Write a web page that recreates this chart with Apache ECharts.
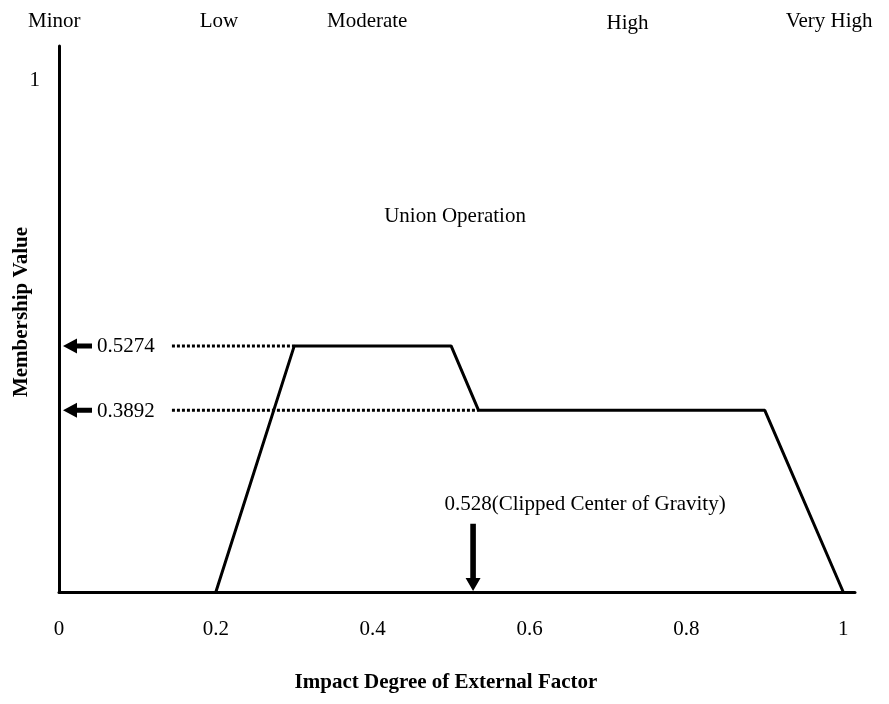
<!DOCTYPE html>
<html><head><meta charset="utf-8">
<script src="https://cdn.jsdelivr.net/npm/echarts@6/dist/echarts.min.js"></script>
<style>html,body{margin:0;padding:0;background:#fff}#c{width:889px;height:704px}</style>
</head><body><div id="c"></div>
<script>
// ---- data ----
const xTicks = [0, 0.2, 0.4, 0.6, 0.8, 1];
const unionX = [0.2, 0.3, 0.5, 0.535, 0.9, 1.0];
const unionY = [0, 0.5274, 0.5274, 0.3892, 0.3892, 0];
const clipLevels = [0.5274, 0.3892];
const clipLabels = ['0.5274', '0.3892'];
const clipStartX = [0.144, 0.144];
const clipEndX = [0.3, 0.535];
const cogX = 0.528;
const cogTopY = 0.146;
const cogLabel = '0.528(Clipped Center of Gravity)';
const setNames = ['Minor', 'Low', 'Moderate', 'High', 'Very High'];
const setNameX = [-0.006, 0.204, 0.393, 0.725, 0.982];
const setNameY = [21, 21, 21, 23, 21];
const opLabel = 'Union Operation';
const opLabelPos = [0.505, 0.8];

(function () {
const FONT = "'Liberation Serif', 'Times New Roman', serif";
const chart = echarts.init(document.getElementById('c'));

const unionData = unionX.map((x, i) => [x, unionY[i]]);
const dottedSeries = clipLevels.map((lv, i) => ({
  type: 'line', symbol: 'none', silent: true, z: 1,
  data: [[clipStartX[i], lv], [clipEndX[i], lv]],
  lineStyle: { color: '#000', width: 3, type: [3, 2] }
}));

chart.setOption({
  animation: false,
  backgroundColor: '#fff',
  grid: { left: 59, top: 46, right: 34, bottom: 112, containLabel: false, outerBoundsMode: 'none' },
  xAxis: {
    type: 'value', min: 0, max: 1.015, interval: 0.2,
    axisLine: { show: true, onZero: false, lineStyle: { color: '#000', width: 3 } },
    axisTick: { show: false }, splitLine: { show: false },
    axisLabel: {
      margin: 27, color: '#000', fontFamily: FONT, fontSize: 21,
      formatter: v => xTicks.some(t => Math.abs(t - v) < 1e-6) ? String(+v.toFixed(1)) : ''
    },
    name: 'Impact Degree of External Factor', nameLocation: 'middle', nameGap: 80,
    nameTextStyle: { color: '#000', fontFamily: FONT, fontSize: 21, fontWeight: 'bold', padding: [0, 22, 0, 0] }
  },
  yAxis: {
    type: 'value', min: 0, max: 1.17, interval: 1,
    axisLine: { show: true, lineStyle: { color: '#000', width: 3 } },
    axisTick: { show: false }, splitLine: { show: false },
    axisLabel: {
      margin: 19, color: '#000', fontFamily: FONT, fontSize: 21,
      verticalAlign: 'bottom', lineHeight: 90,
      formatter: v => Math.abs(v - 1) < 1e-6 ? '1' : ''
    },
    name: 'Membership Value', nameLocation: 'middle', nameGap: 27, nameRotate: 90,
    nameMoveOverlap: false,
    nameTextStyle: { color: '#000', fontFamily: FONT, fontSize: 21, fontWeight: 'bold', padding: [0, 0, 0, 14] }
  },
  series: [
    { type: 'line', symbol: 'none', z: 3, data: unionData,
      lineStyle: { color: '#000', width: 3 } },
    ...dottedSeries
  ]
});

const px = (x, y) => chart.convertToPixel({ gridIndex: 0 }, [x, y]);
const gfx = [];
const baseY = px(0, 0)[1];
const axisX = px(0, 0)[0];
setNames.forEach((n, i) => {
  gfx.push({ type: 'text', x: px(setNameX[i], 0)[0], y: setNameY[i],
    style: { text: n, font: '21px ' + FONT, fill: '#000', align: 'center', verticalAlign: 'middle' } });
});
const op = px(opLabelPos[0], opLabelPos[1]);
gfx.push({ type: 'text', x: op[0], y: 216,
  style: { text: opLabel, font: '21px ' + FONT, fill: '#000', align: 'center', verticalAlign: 'middle' } });
clipLevels.forEach((lv, i) => {
  const y = px(0, lv)[1];
  const tip = axisX + 4, back = axisX + 18, end = axisX + 33;
  gfx.push({ type: 'polygon', shape: { points: [[tip, y], [back, y - 7.5], [back, y - 2.5], [end, y - 2.5], [end, y + 2.5], [back, y + 2.5], [back, y + 7.5]] },
    style: { fill: '#000' } });
  gfx.push({ type: 'text', x: axisX + 38, y: y + 1,
    style: { text: clipLabels[i], font: '21px ' + FONT, fill: '#000', align: 'left', verticalAlign: 'middle' } });
});
const cx = px(cogX, 0)[0];
const arrowTop = px(cogX, cogTopY)[1];
const headStart = baseY - 14;
gfx.push({ type: 'polygon', shape: { points: [[cx - 2.8, arrowTop], [cx + 2.8, arrowTop], [cx + 2.8, headStart], [cx + 7.5, headStart], [cx, baseY - 1], [cx - 7.5, headStart], [cx - 2.8, headStart]] },
  style: { fill: '#000' } });
gfx.push({ type: 'text', x: cx + 112, y: 504,
  style: { text: cogLabel, font: '21px ' + FONT, fill: '#000', align: 'center', verticalAlign: 'middle' } });

chart.setOption({ graphic: gfx });
})();
</script>
</body></html>
